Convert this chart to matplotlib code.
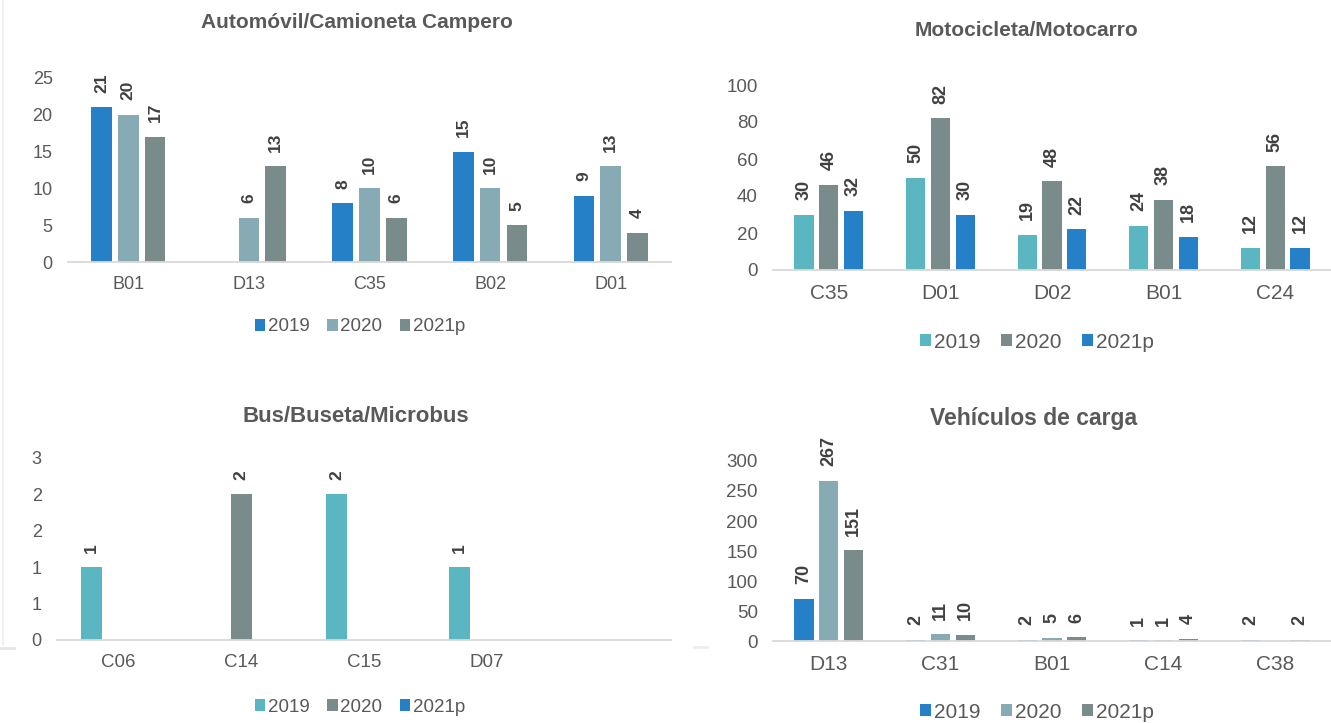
import math
import numpy as np
import matplotlib
matplotlib.use("Agg")
import matplotlib.pyplot as plt
from matplotlib.patches import Patch
from matplotlib.lines import Line2D
from matplotlib.ticker import FuncFormatter, MultipleLocator

plt.rcParams['font.family'] = ['Liberation Sans', 'DejaVu Sans']

# ---------------- data ----------------
series = ["2019", "2020", "2021p"]

auto_title = "Automóvil/Camioneta Campero"
auto_cats = ["B01", "D13", "C35", "B02", "D01"]
auto_2019 = [21, None, 8, 15, 9]
auto_2020 = [20, 6, 10, 10, 13]
auto_2021 = [17, 13, 6, 5, 4]

moto_title = "Motocicleta/Motocarro"
moto_cats = ["C35", "D01", "D02", "B01", "C24"]
moto_2019 = [30, 50, 19, 24, 12]
moto_2020 = [46, 82, 48, 38, 56]
moto_2021 = [32, 30, 22, 18, 12]

bus_title = "Bus/Buseta/Microbus"
bus_cats = ["C06", "C14", "C15", "D07", ""]
bus_2019 = [1, None, 2, 1, None]
bus_2020 = [None, 2, None, None, None]
bus_2021 = [None, None, None, None, None]

carga_title = "Vehículos de carga"
carga_cats = ["D13", "C31", "B01", "C14", "C38"]
carga_2019 = [70, 2, 2, 1, 2]
carga_2020 = [267, 11, 5, 1, None]
carga_2021 = [151, 10, 6, 4, 2]

# ---------------- style ----------------
BLUE = "#2680C7"
LIGHT = "#86ABB5"
DARK = "#7A8B8C"
TEAL = "#5AB6C0"
TXT = "#595959"
LBL = "#404040"
AXC = "#D9D9D9"

W, H = 1331, 723
fig = plt.figure(figsize=(W / 100, H / 100), dpi=100)


def px_axes(x0, x1, ytop, ybot):
    return fig.add_axes([x0 / W, 1 - ybot / H, (x1 - x0) / W, (ybot - ytop) / H])


def draw_panel(ax, cats, vals, colors, ymax, ystep, fmt=None, fs_tick=13,
               fs_cat=13, fs_lbl=12):
    n = len(cats)
    x = np.arange(n)
    offs = [-0.222, 0.0, 0.222]
    for k, (v, c) in enumerate(zip(vals, colors)):
        xs = [xi + offs[k] for xi, vi in zip(x, v) if vi is not None]
        ys = [vi for vi in v if vi is not None]
        bars = ax.bar(xs, ys, width=0.172, color=c, zorder=2)
        for b, yv in zip(bars, ys):
            ax.annotate(f"{yv}", (b.get_x() + b.get_width() / 2, yv),
                        xytext=(0, 10.5), textcoords="offset points",
                        rotation=90, ha="center", va="bottom",
                        fontsize=fs_lbl, fontweight="bold", color=LBL)
    ax.set_xlim(-0.5, n - 0.5)
    ax.set_ylim(0, ymax)
    ax.yaxis.set_major_locator(MultipleLocator(ystep))
    if fmt is not None:
        ax.yaxis.set_major_formatter(FuncFormatter(fmt))
    ax.set_xticks(x)
    ax.set_xticklabels(cats)
    for s in ["top", "right", "left"]:
        ax.spines[s].set_visible(False)
    ax.spines["bottom"].set_color(AXC)
    ax.spines["bottom"].set_linewidth(1.3)
    ax.tick_params(axis="y", length=0, pad=11, labelsize=fs_tick, labelcolor=TXT)
    ax.tick_params(axis="x", length=0, pad=10, labelsize=fs_cat, labelcolor=TXT)
    ax.set_facecolor("none")


def legend(colors, cx, cy, fs):
    handles = [Patch(facecolor=c, edgecolor="none") for c in colors]
    fig.legend(handles, series, loc="center", bbox_to_anchor=(cx / W, 1 - cy / H),
               ncol=3, frameon=False, fontsize=fs, labelcolor=TXT,
               handlelength=0.55, handleheight=0.55, handletextpad=0.15,
               columnspacing=0.95, borderaxespad=0)


def title(t, cx, cy, fs):
    fig.text(cx / W, 1 - cy / H, t, ha="center", va="center", fontsize=fs,
             fontweight="bold", color=TXT)


def excel_round(v, pos):
    return f"{int(math.floor(v + 0.5 + 1e-9))}"


# faint page-border artefacts
fig.add_artist(Line2D([3 / W, 3 / W], [1 - 645 / H, 1.0], color="#EDEDED", lw=1.2))
fig.add_artist(Line2D([0, 14 / W], [1 - 648 / H, 1 - 648 / H], color="#E6E6E6", lw=2))
fig.add_artist(Line2D([694 / W, 707 / W], [1 - 647 / H, 1 - 647 / H], color="#EEEEEE", lw=2))

# Panel 1
ax1 = px_axes(68, 671, 78, 262)
draw_panel(ax1, auto_cats, [auto_2019, auto_2020, auto_2021], [BLUE, LIGHT, DARK], 25, 5,
           fs_tick=13, fs_cat=13, fs_lbl=12.5)
title(auto_title, 357, 22, 15)
legend([BLUE, LIGHT, DARK], 360, 327, 13.5)

# Panel 2
ax2 = px_axes(773, 1331, 85, 270)
draw_panel(ax2, moto_cats, [moto_2019, moto_2020, moto_2021], [TEAL, DARK, BLUE], 100, 20,
           fs_tick=13.5, fs_cat=15, fs_lbl=13)
title(moto_title, 1027, 30, 15)
legend([TEAL, DARK, BLUE], 1037, 342, 15)

# Panel 3
ax3 = px_axes(57, 671, 458, 640)
draw_panel(ax3, bus_cats, [bus_2019, bus_2020, bus_2021], [TEAL, DARK, BLUE], 2.5, 0.5,
           fmt=excel_round, fs_tick=13, fs_cat=13.5, fs_lbl=12.5)
title(bus_title, 356, 417, 16)
legend([TEAL, DARK, BLUE], 360, 707, 13.5)

# Panel 4
ax4 = px_axes(773, 1331, 461, 641)
draw_panel(ax4, carga_cats, [carga_2019, carga_2020, carga_2021], [BLUE, LIGHT, DARK], 300, 50,
           fs_tick=13.5, fs_cat=15, fs_lbl=13)
title(carga_title, 1034, 418, 16.5)
legend([BLUE, LIGHT, DARK], 1037, 712, 15)

fig.savefig("out.png", dpi=100)
